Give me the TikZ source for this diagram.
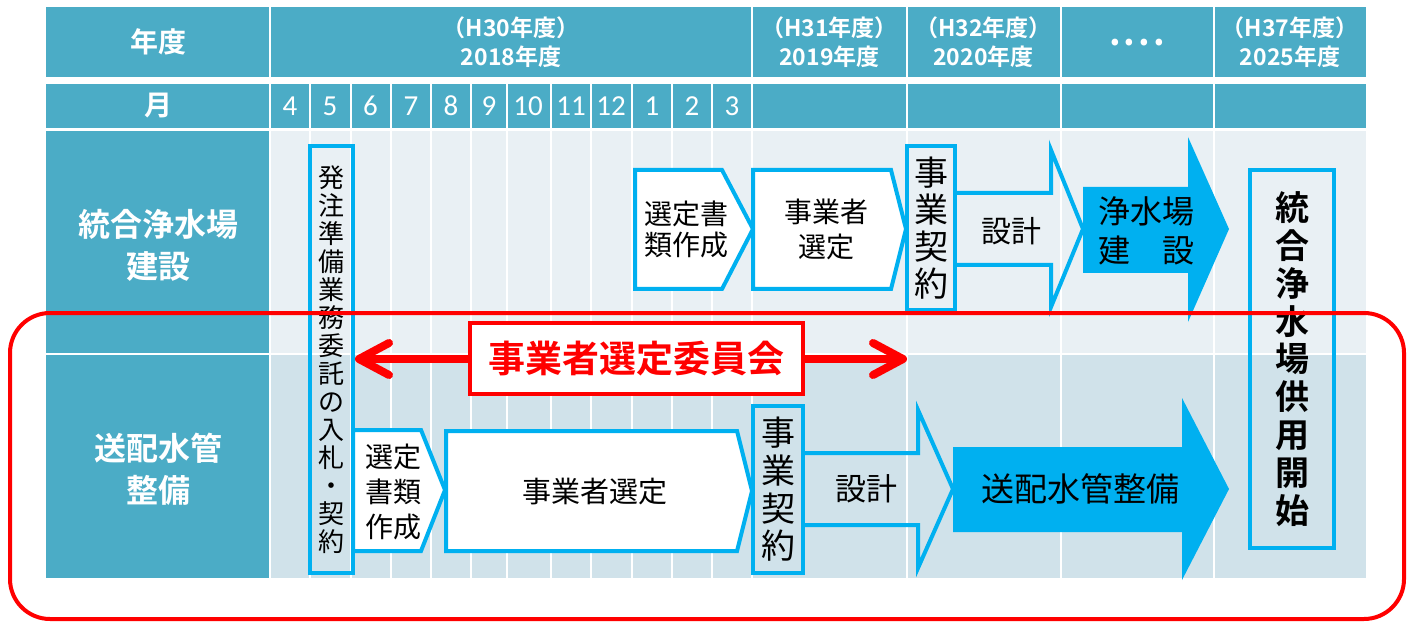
\documentclass[tikz,border=0pt]{standalone}
\usepackage{fontspec}
\setmainfont{Noto Sans CJK JP}[BoldFont={Noto Sans CJK JP Bold}]
\newfontfamily\monthfont{Carlito}
\usetikzlibrary{arrows.meta,positioning}
\definecolor{headteal}{RGB}{75,172,198}
\definecolor{planpale}{RGB}{233,240,244}
\definecolor{pipepale}{RGB}{208,226,234}
\definecolor{stepcyan}{RGB}{0,176,240}
\definecolor{boardred}{RGB}{255,0,0}

\begin{document}
\begin{tikzpicture}[x=0.5pt,y=-0.5pt,>=Latex,
  every node/.style={align=center,inner sep=0pt},
  gridline/.style={white,line width=1pt},
  headtext/.style={text=white,font=\bfseries\fontsize{11.5}{14.5}\selectfont},
  sidetext/.style={text=white,font=\bfseries\fontsize{16}{21}\selectfont},
  monthtext/.style={text=white,font=\monthfont\fontsize{14.5}{16}\selectfont},
  stepline/.style={draw=stepcyan,line width=2pt},
  boardarrow/.style={boardred,line width=4pt,line cap=round,
    arrows={Straight Barb[length=15pt,width=16pt,round]-Straight Barb[length=15pt,width=16pt,round]}}]
  \useasboundingbox (0,0) rectangle (1416,625);
  % table background
  \fill[headteal] (46,7) rectangle (1366,77);
  \fill[headteal] (46,84) rectangle (1366,128);
  \fill[headteal] (46,131) rectangle (270,578);
  \fill[planpale] (270,131) rectangle (1366,354);
  \fill[pipepale] (270,354) rectangle (1366,578);
  \foreach \x in {270,752,906.5,1060.5,1213.5}
    \draw[gridline] (\x,7) -- (\x,77);
  \foreach \x in {270,310,350.5,390.5,431,471,506.5,551,591,631.5,672,711.5,752,906.5,1060.5,1213.5}
    \draw[gridline] (\x,84) -- (\x,578);
  \draw[gridline] (46,354) -- (1366,354);
  % headings
  \node[headtext,font=\bfseries\fontsize{14}{16}\selectfont] (nendo) at (158,42) {年度};
  \node[headtext,font=\bfseries\fontsize{14}{16}\selectfont] (tsuki) at (158,106) {月};
  \node[headtext] (fy2018) at (511,42.5) {（H30年度）\\2018年度};
  \node[headtext] (fy2019) at (829.5,42.5) {（H31年度）\\2019年度};
  \node[headtext] (fy2020) at (983.5,42.5) {（H32年度）\\2020年度};
  \node[headtext,font=\bfseries\fontsize{18}{20}\selectfont,anchor=base] (fyskip) at (1137,46) {.\hspace{1.5pt}.\hspace{1.5pt}.\hspace{1.5pt}.};
  \node[headtext] (fy2025) at (1290,42.5) {（H37年度）\\2025年度};
  \foreach \m/\x in {4/290,5/330,6/370.5,7/411,8/451,9/489,10/528,11/571,12/611,1/652,2/692,3/732}
    \node[monthtext] (m\m) at (\x,106) {\m};
  \node[sidetext] (plantrow) at (158,245) {統合浄水場\\建設};
  \node[sidetext] (piperow) at (158,469) {送配水管\\整備};
  % 統合浄水場建設
  \draw[stepline,fill=white] (635,170) -- (722,170) -- (753,229) -- (722,289) -- (635,289) -- cycle;
  \node[font=\fontsize{14}{15.5}\selectfont] (plandoc) at (686,229) {選定書\\類作成};
  \draw[stepline,fill=white] (753,170) -- (891,170) -- (906,229) -- (891,289) -- (753,289) -- cycle;
  \node[font=\fontsize{14}{17.5}\selectfont] (planpick) at (826,229) {事業者\\選定};
  \draw[stepline] (955,193) -- (1051,193) -- (1051,150) -- (1083,229) -- (1051,307) -- (1051,265) -- (955,265);
  \node[font=\fontsize{15}{17}\selectfont] (plandesign) at (1011,231) {設計};
  \node[stepline,minimum width=24pt,minimum height=82pt,font=\fontsize{17}{18.5}\selectfont] (plandeal) at (931,228) {事\\業\\契\\約};
  \fill[stepcyan] (1083,187) -- (1188,187) -- (1188,137) -- (1229,229) -- (1188,322) -- (1188,273) -- (1083,273) -- cycle;
  \node[font=\fontsize{16}{19.5}\selectfont] (plantwork) at (1146,231) {浄水場\\建　設};
  \node[stepline,minimum width=42pt,minimum height=189pt,font=\bfseries\fontsize{17}{18.9}\selectfont] (opening) at (1292,359) {統\\合\\浄\\水\\場\\供\\用\\開\\始};
  % 送配水管整備
  \node[stepline,minimum width=21.5pt,minimum height=213.5pt,font=\fontsize{13}{14}\selectfont] (hachu) at (331.5,359.5) {発\\注\\準\\備\\業\\務\\委\\託\\の\\入\\札\\・\\契\\約};
  \draw[stepline,fill=white] (353,430) -- (421,430) -- (445,490) -- (421,551) -- (353,551) -- cycle;
  \node[font=\fontsize{14}{17.3}\selectfont] (pipedoc) at (393,492) {選定\\書類\\作成};
  \draw[stepline,fill=white] (446,431) -- (737,431) -- (752,491) -- (737,551) -- (446,551) -- cycle;
  \node[font=\fontsize{14.5}{16}\selectfont] (pipepick) at (595,492) {事業者選定};
  \draw[stepline] (803,453) -- (918,453) -- (918,410) -- (953,489) -- (918,568) -- (918,525) -- (803,525);
  \node[font=\fontsize{15.5}{17}\selectfont] (pipedesign) at (866,489) {設計};
  \node[stepline,minimum width=25pt,minimum height=83.5pt,font=\fontsize{17}{18.8}\selectfont] (pipedeal) at (778,489.5) {事\\業\\契\\約};
  \fill[stepcyan] (953,447) -- (1182,447) -- (1182,398) -- (1229,489) -- (1182,580) -- (1182,532) -- (953,532) -- cycle;
  \node[font=\fontsize{16.5}{18}\selectfont] (pipework) at (1080,489) {送配水管整備};
  % 事業者選定委員会
  \coordinate (iinend) at (907,359);
  \draw[boardarrow] (hachu.east |- iinend) -- (iinend);
  \draw[boardred,line width=2pt,rounded corners=20pt] (10,313) rectangle (1404,619);
  \node[draw=boardred,line width=2pt,fill=white,minimum width=166.5pt,minimum height=35.5pt,
    text=boardred,font=\bfseries\fontsize{18.5}{20}\selectfont] (iinkai) at (636.5,358.5) {事業者選定委員会};
\end{tikzpicture}
\end{document}
